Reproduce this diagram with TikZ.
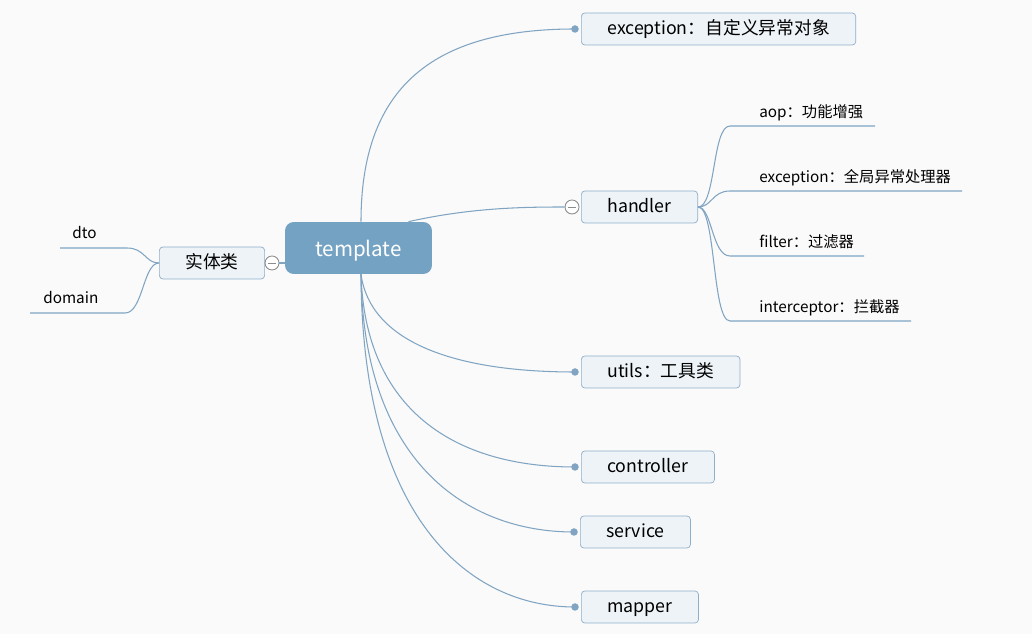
\documentclass[tikz,border=0pt]{standalone}
\usepackage{fontspec}
\setmainfont{Noto Sans CJK SC}
\definecolor{bgc}{HTML}{FAFAFA}
\definecolor{linec}{HTML}{80A4C2}
\definecolor{boxfill}{HTML}{EEF3F7}
\definecolor{boxline}{HTML}{8EAECA}
\definecolor{rootc}{HTML}{74A2C3}
\definecolor{knobc}{HTML}{8C8C8C}
\begin{document}
\begin{tikzpicture}[x=0.02cm,y=-0.02cm]

\tikzset{
    root/.style={fill=rootc, rounded corners=5pt, text=white, font=\fontsize{11.7}{13}\selectfont, text depth=0pt, minimum width=2.94cm, minimum height=1.04cm},
    topic/.style={draw=boxline, fill=boxfill, rounded corners=2pt, anchor=west, inner xsep=0.52cm, minimum height=0.64cm, text height=0.8em, text depth=0.2em, font=\fontsize{10.1}{12}\selectfont},
    sub/.style={anchor=base west, inner sep=0pt, font=\fontsize{8.7}{10}\selectfont},
    conn/.style={draw=linec, line width=0.6pt},
    knob/.style={circle, draw=knobc, fill=white, minimum size=0.28cm, inner sep=0pt, line width=0.5pt,
        path picture={\draw[knobc, line width=0.5pt] ([xshift=-2.2pt]path picture bounding box.center) -- ([xshift=2.2pt]path picture bounding box.center);}},
    dot/.style={circle, fill=linec, minimum size=0.15cm, inner sep=0pt}
}
\fill[bgc] (0,0) rectangle (1032,634);
\useasboundingbox (0,0) rectangle (1032,634);

% main topics
\node[root] (root) at (358.5,248) {template};
\node[topic, anchor=center] (entity) at (212,263) {实体类};
\node[topic] (excp) at (581,29) {exception：自定义异常对象};
\node[topic] (handler) at (581,207) {handler};
\node[topic] (utils) at (581,372) {utils：工具类};
\node[topic] (ctrl) at (581,467) {controller};
\node[topic] (serv) at (580,532) {service};
\node[topic] (mapper) at (581,607) {mapper};

% knobs and dots
\node[knob] (k-entity) at (272,263) {};
\node[knob] (k-handler) at (572,207) {};
\node[dot] (d-excp) at (575,29) {};
\node[dot] (d-utils) at (575,372) {};
\node[dot] (d-ctrl) at (575,467) {};
\node[dot] (d-serv) at (574,532) {};
\node[dot] (d-mapper) at (575,607) {};

% sub topics
\node[sub] (dto) at (72,239) {dto};
\node[sub] (domain) at (43,304) {domain};
\node[sub] (aop) at (759,118) {aop：功能增强};
\node[sub] (hexcp) at (759,183) {exception：全局异常处理器};
\node[sub] (filter) at (759,248) {filter：过滤器};
\node[sub] (icpt) at (759,313) {interceptor：拦截器};
\coordinate (dto-l) at (60,248);   \coordinate (dto-r) at (127,248);
\coordinate (dom-l) at (30,313);   \coordinate (dom-r) at (125,313);
\coordinate (aop-l) at (730,126);  \coordinate (aop-r) at (875,126);
\coordinate (hex-l) at (730,191);  \coordinate (hex-r) at (962,191);
\coordinate (fil-l) at (730,256);  \coordinate (fil-r) at (864,256);
\coordinate (icp-l) at (730,321);  \coordinate (icp-r) at (911,321);

% connectors
\draw[conn] (k-entity.east) -- (root.west |- k-entity);
\draw[conn] ([xshift=1cm]root.north) .. controls (470,208) and (520,207) .. (k-handler.west);
\draw[conn] ([xshift=0.05cm]root.north) .. controls (361,90) and (430,29) .. (d-excp.center);
\draw[conn] ([xshift=0.05cm]root.south) .. controls (370,340) and (450,372) .. (d-utils.center);
\draw[conn] ([xshift=0.05cm]root.south) .. controls (365,410) and (455,467) .. (d-ctrl.center);
\draw[conn] ([xshift=0.05cm]root.south) .. controls (363,460) and (465,532) .. (d-serv.center);
\draw[conn] ([xshift=0.05cm]root.south) .. controls (362,520) and (470,607) .. (d-mapper.center);

\draw[conn] (entity.west) .. controls (145,263) and (145,248) .. (dto-r) -- (dto-l);
\draw[conn] (entity.west) .. controls (143,263) and (143,313) .. (dom-r) -- (dom-l);
\draw[conn] (handler.east) .. controls (716,207) and (712,126) .. (aop-l) -- (aop-r);
\draw[conn] (handler.east) .. controls (712,207) and (712,191) .. (hex-l) -- (hex-r);
\draw[conn] (handler.east) .. controls (712,207) and (712,256) .. (fil-l) -- (fil-r);
\draw[conn] (handler.east) .. controls (716,207) and (712,321) .. (icp-l) -- (icp-r);
\end{tikzpicture}
\end{document}
